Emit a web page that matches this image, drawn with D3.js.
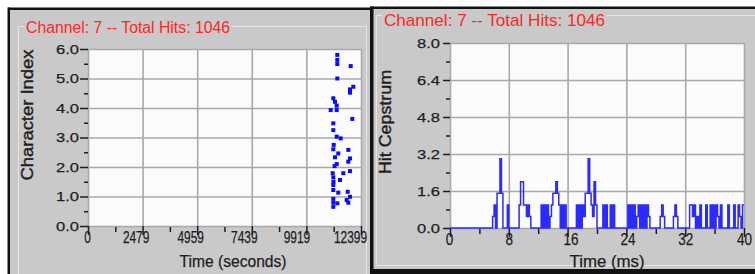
<!DOCTYPE html>
<html>
<head>
<meta charset="UTF-8">
<title>Channel 7</title>
<style>
  body { margin: 0; background: #fff; }
  svg text { font-family: "Liberation Sans", Arial, sans-serif; }
</style>
</head>
<body>
<svg width="755" height="274"></svg>
<script src="https://cdn.jsdelivr.net/npm/d3@7/dist/d3.min.js"></script>
<script>
// ---- data ----
var titleText = "Channel: 7 -- Total Hits: 1046";

// left chart: character index vs time (seconds)
var hitTimes = [11323, 11323, 11323, 11931, 11323, 11900, 11900, 12050, 11141, 11218,
                11295, 11023, 11295, 12005, 11141, 11141, 11295, 11477, 11141, 11368,
                11823, 11218, 11900, 11295, 11823, 11114, 11141, 11150, 11595, 11900,
                11445, 11141, 11368, 11795, 11900, 11141, 11323, 11141, 11823, 11750,
                11160, 11200, 11141, 11141];
var charIndex = [5.80, 5.63, 5.49, 5.42, 5.00, 4.63, 4.52, 4.72, 4.33, 4.21,
                 4.08, 3.93, 3.93, 3.63, 3.48, 3.25, 3.03, 2.97, 2.60, 2.46,
                 2.58, 2.33, 2.29, 2.10, 2.18, 1.79, 1.65, 1.50, 1.79, 1.86,
                 1.56, 1.22, 1.13, 1.16, 0.99, 0.79, 0.77, 0.65, 0.79, 0.88,
                 2.75, 2.03, 1.39, 0.92];
var leftXTicks = [0, 2479, 4959, 7439, 9919, 12399];
var leftYTicks = [0, 1, 2, 3, 4, 5, 6];

// right chart: hit cepstrum, 0.2 ms bins (only non-zero bins listed)
var binWidth = 0.2;
var cepTimes = [5.8, 6.0, 6.4, 6.6, 6.8, 7.0, 7.8,
                9.4, 9.6, 9.8, 10.0, 10.2, 10.4, 10.6, 10.8,
                12.4, 12.8, 13.2, 13.6, 13.8, 14.0, 14.2, 14.4, 14.6, 14.8, 15.2, 15.6,
                17.2, 17.6, 18.0, 18.2, 18.4, 18.6, 18.8, 19.0, 19.2, 19.4, 19.6, 19.8,
                20.8, 21.2, 21.8, 22.2,
                24.2, 24.6, 25.0, 25.4, 25.6, 26.0, 26.4, 26.8, 27.0,
                28.6, 28.8, 29.0, 30.4, 30.6, 30.8,
                32.6, 32.8, 33.0, 33.2, 33.6, 34.0, 34.8, 35.4, 35.8, 36.2, 36.4,
                36.8, 37.8, 38.6, 39.2, 39.4, 39.8];
var cepValues = [0.5, 1.0, 1.5, 1.5, 3.0, 1.5, 1.0,
                 1.0, 2.0, 2.0, 1.0, 1.0, 0.5, 1.0, 0.5,
                 1.0, 1.0, 1.0, 0.5, 1.0, 1.5, 1.5, 2.0, 1.5, 1.0, 1.0, 1.0,
                 1.0, 1.0, 1.0, 0.5, 1.5, 1.5, 3.0, 1.5, 1.0, 0.5, 2.0, 1.0,
                 1.0, 1.0, 1.0, 1.0,
                 1.0, 1.0, 1.0, 0.5, 1.0, 1.0, 1.0, 1.0, 0.5,
                 0.5, 1.0, 0.5, 0.5, 1.0, 0.5,
                 1.0, 1.0, 0.5, 1.0, 0.5, 1.0, 1.0, 1.0, 1.0, 1.0, 0.5,
                 1.0, 1.0, 1.0, 1.0, 0.5, 1.0];
var rightXTicks = [0, 8, 16, 24, 32, 40];
var rightYTicks = [0, 1.6, 3.2, 4.8, 6.4, 8.0];

var svg = d3.select("svg");
var GRAY = "#c9c9c9", GRID = "#a9a9a9", INK = "#1e1e1e";

svg.append("rect").attr("width", 755).attr("height", 274).attr("fill", "#fff");

// panels
svg.append("rect").attr("x", 9).attr("y", 9).attr("width", 363).attr("height", 265).attr("fill", GRAY);
svg.append("rect").attr("x", 373).attr("y", 8).attr("width", 382).attr("height", 262).attr("fill", GRAY);
svg.append("rect").attr("x", 8).attr("y", 7.5).attr("width", 364).attr("height", 2.5).attr("fill", "#111");
svg.append("rect").attr("x", 7.5).attr("y", 7.5).attr("width", 2.5).attr("height", 267).attr("fill", "#111");
svg.append("rect").attr("x", 370).attr("y", 6.5).attr("width", 385).attr("height", 2.5).attr("fill", "#111");
svg.append("rect").attr("x", 370).attr("y", 6.5).attr("width", 3.5).attr("height", 264).attr("fill", "#111");
svg.append("rect").attr("x", 370).attr("y", 269).attr("width", 385).attr("height", 5).attr("fill", "#111");

// group boxes
svg.append("rect").attr("x", 18.5).attr("y", 26.5).attr("width", 348).attr("height", 260)
    .attr("fill", "none").attr("stroke", "#e4e4e4");
svg.append("rect").attr("x", 376.5).attr("y", 15.5).attr("width", 400).attr("height", 250)
    .attr("fill", "none").attr("stroke", "#e4e4e4");

function title(x, y, size, len) {
    svg.append("rect").attr("x", x - 2).attr("y", y - size).attr("width", len + 4).attr("height", size + 4)
        .attr("fill", GRAY);
    svg.append("text").attr("x", x).attr("y", y).attr("fill", "#ff2626")
        .attr("font-size", size).attr("textLength", len).attr("lengthAdjust", "spacingAndGlyphs")
        .text(titleText);
}
title(26, 32.5, 16, 204);
title(384, 26, 17, 221);

function mid(ticks) {
    return d3.pairs(ticks).map(function (p) { return (p[0] + p[1]) / 2; });
}

function frame(o) {
    var x = o.x, y = o.y;
    var x0 = x.range()[0], x1 = x.range()[1], yb = y.range()[0], yt = y.range()[1];
    svg.append("rect").attr("x", x0).attr("y", yt).attr("width", x1 - x0).attr("height", yb - yt)
        .attr("fill", "#fbfbfb");

    // grid
    var gx = svg.append("g").attr("transform", "translate(0," + yb + ")")
        .call(d3.axisBottom(x).tickValues(o.xTicks).tickSize(-(yb - yt)).tickFormat(""));
    var gy = svg.append("g").attr("transform", "translate(" + x0 + ",0)")
        .call(d3.axisLeft(y).tickValues(o.yTicks).tickSize(-(x1 - x0)).tickFormat(""));
    [gx, gy].forEach(function (g) {
        g.select(".domain").remove();
        g.selectAll("line").attr("stroke", GRID).attr("stroke-width", 1.6);
    });

    // major / minor ticks
    var ax = svg.append("g").attr("transform", "translate(0," + yb + ")")
        .call(d3.axisBottom(x).tickValues(o.xTicks).tickSize(9).tickPadding(-3)
            .tickFormat(function (d) { return String(d); }));
    var axm = svg.append("g").attr("transform", "translate(0," + (yb + 1) + ")")
        .call(d3.axisBottom(x).tickValues(mid(o.xTicks)).tickSize(5).tickFormat(""));
    var ay = svg.append("g").attr("transform", "translate(" + x0 + ",0)")
        .call(d3.axisLeft(y).tickValues(o.yTicks).tickSize(o.yTick).tickPadding(o.yPad)
            .tickFormat(d3.format(".1f")));
    var aym = svg.append("g").attr("transform", "translate(" + x0 + ",0)")
        .call(d3.axisLeft(y).tickValues(mid(o.yTicks)).tickSize(4).tickFormat(""));
    [ax, axm, ay, aym].forEach(function (g) {
        g.select(".domain").remove();
        g.selectAll("line").attr("stroke", INK).attr("stroke-width", 1.5);
        g.selectAll("text").attr("fill", INK).attr("font-family", null)
            .attr("stroke", INK).attr("stroke-width", 0.25);
    });
    ax.selectAll("text").attr("font-size", 16)
        .attr("dx", function (d, i) { return i === 0 ? -1 : o.xShift[i]; })
        .attr("textLength", function (d) { return String(d).length * o.digitW; })
        .attr("lengthAdjust", "spacingAndGlyphs");
    ay.selectAll("text").attr("font-size", 13)
        .attr("textLength", 23).attr("lengthAdjust", "spacingAndGlyphs");

    svg.append("text").attr("x", o.xTitleX).attr("y", 266.5).attr("text-anchor", "middle")
        .attr("font-size", 16).attr("fill", INK).attr("stroke", INK).attr("stroke-width", 0.25)
        .attr("textLength", o.xTitleLen).attr("lengthAdjust", "spacingAndGlyphs")
        .text(o.xTitle);
    svg.append("text").attr("transform", "translate(" + o.yTitleX + "," + o.yTitleY + ") rotate(-90)")
        .attr("text-anchor", "middle").attr("font-size", 17).attr("fill", INK)
        .attr("stroke", INK).attr("stroke-width", 0.4)
        .attr("textLength", o.yTitleLen).attr("lengthAdjust", "spacingAndGlyphs")
        .text(o.yTitle);
}

// ---- left chart ----
var xL = d3.scaleLinear().domain([0, 12399]).range([88, 361]);
var yL = d3.scaleLinear().domain([0, 6]).range([226, 49]);
frame({
    x: xL, y: yL, xTicks: leftXTicks, yTicks: leftYTicks, yTick: 8, yPad: 1,
    xShift: [0, -7, -7, -8, -10, -11], digitW: 6.6,
    xTitle: "Time (seconds)", xTitleX: 233, xTitleLen: 107,
    yTitle: "Character Index", yTitleX: 33, yTitleY: 115, yTitleLen: 131
});
svg.append("g").selectAll("rect").data(hitTimes).join("rect")
    .attr("x", function (d) { return xL(d) - 2; })
    .attr("y", function (d, i) { return yL(charIndex[i]) - 2; })
    .attr("width", 4).attr("height", 4).attr("fill", "#0a0aff");

// ---- right chart ----
var xR = d3.scaleLinear().domain([0, 40]).range([450, 744]);
var yR = d3.scaleLinear().domain([0, 8]).range([228, 43]);
frame({
    x: xR, y: yR, xTicks: rightXTicks, yTicks: rightYTicks, yTick: 7, yPad: 3,
    xShift: [0, 0, 3, 1, 0, 0], digitW: 7.5,
    xTitle: "Time (ms)", xTitleX: 607, xTitleLen: 75,
    yTitle: "Hit Cepstrum", yTitleX: 391, yTitleY: 122, yTitleLen: 104
});

var nBins = Math.round(40 / binWidth);
var bins = d3.range(nBins).map(function () { return 0; });
cepTimes.forEach(function (t, i) { bins[Math.round(t / binWidth)] = cepValues[i]; });
var steps = bins.map(function (v, i) { return [i * binWidth, v]; });
steps.push([40, bins[nBins - 1]]);

var lineGen = d3.line()
    .x(function (d) { return xR(d[0]); })
    .y(function (d) { return yR(d[1]); })
    .curve(d3.curveStepAfter);
svg.append("path").attr("d", lineGen(steps))
    .attr("fill", "none").attr("stroke", "#2b2bff").attr("stroke-width", 1.5);
</script>
</body>
</html>
